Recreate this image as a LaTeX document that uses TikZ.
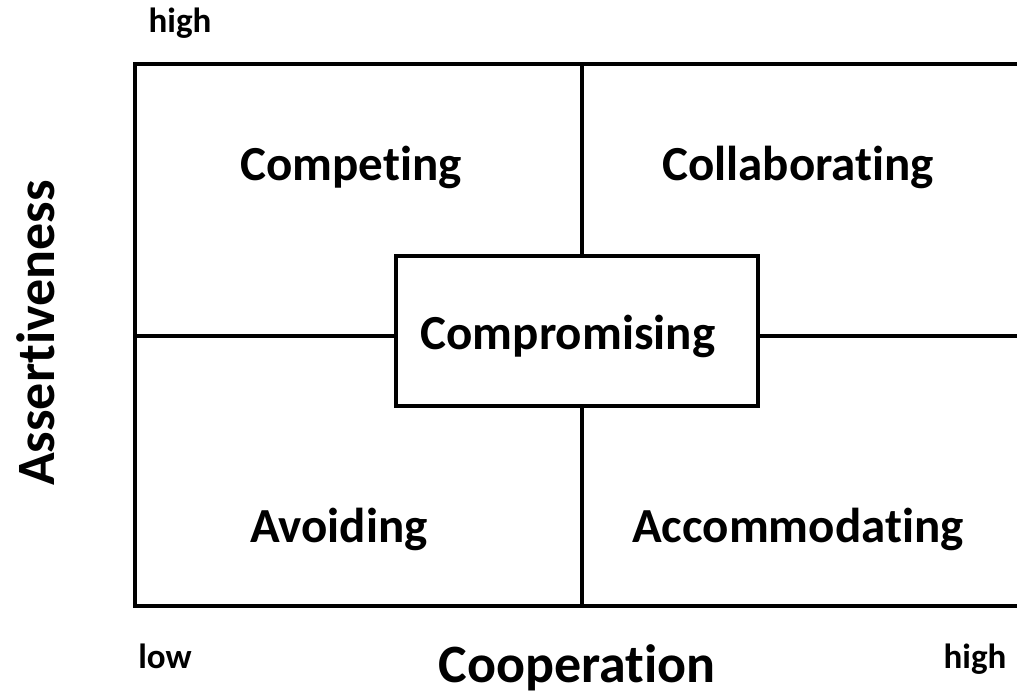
\documentclass[tikz,border=0pt]{standalone}
\usepackage{fontspec}
\setmainfont[Ligatures={NoCommon}]{Carlito}
\begin{document}
\begin{tikzpicture}[x=1pt,y=-1pt,
  frame/.style={line width=4.5pt, line cap=rect},
  quad/.style={font=\fontsize{49}{55}\selectfont\bfseries, anchor=base},
  axis/.style={font=\fontsize{54}{60}\selectfont\bfseries, anchor=base},
  small/.style={font=\fontsize{35}{40}\selectfont\bfseries, anchor=base}]
\useasboundingbox (0,0) rectangle (1017,697);
\fill[white] (0,0) rectangle (1017,697);
% outer frame (right side open, cut by the page edge)
\coordinate (tr) at (1030,64);
\coordinate (tl) at (135,64);
\coordinate (bl) at (135,606);
\coordinate (br) at (1030,606);
\draw[frame, line join=miter] (tr) -- (tl) -- (bl) -- (br);
% centre box
\node[draw, line width=4.5pt, minimum width=362pt, minimum height=150pt,
      inner sep=0pt, font=\fontsize{49}{55}\selectfont\bfseries,
      text height=40pt, text depth=3pt] (comp) at (577,331) {\hspace*{-18pt}Compromising};
\coordinate (vt) at (582,64);
\coordinate (vb) at (582,606);
\coordinate (hl) at (135,336);
\coordinate (hr) at (1030,336);
\draw[frame] (vt) -- (vt |- comp.north);
\draw[frame] (vb) -- (vb |- comp.south);
\draw[frame] (hl) -- (hl -| comp.west);
\draw[frame] (hr) -- (hr -| comp.east);
% quadrant labels
\node[quad] (competing) at (351,180) {Competing};
\node[quad] (collab) at (798,180) {Collaborating};
\node[quad] (avoid) at (339,542) {Avoiding};
\node[quad] (accom) at (798,542) {Accommodating};
% axes
\node[axis] (coop) at (577,682) {Cooperation};
\node[axis, rotate=90] (assert) at (54,333) {Assertiveness};
\node[small] (hightop) at (180,32) {high};
\node[small] (low) at (165,668) {low};
\node[small] (highbot) at (975,668) {high};
\end{tikzpicture}
\end{document}
